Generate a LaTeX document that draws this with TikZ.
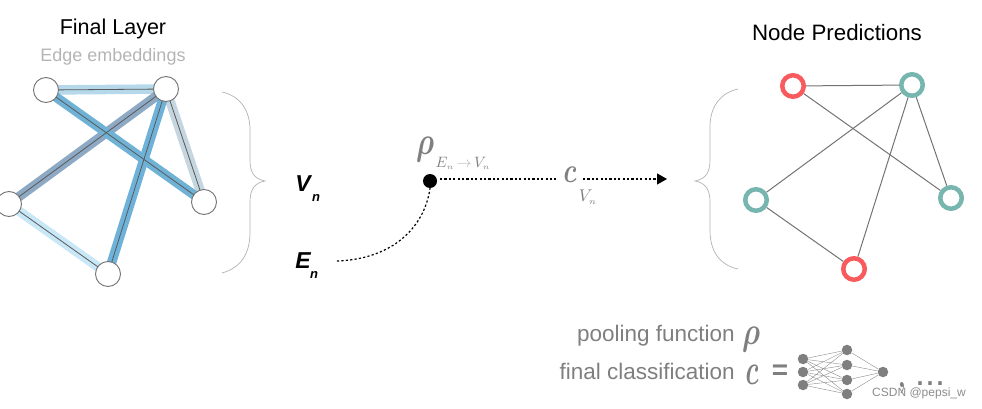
\documentclass[tikz,border=0pt]{standalone}
\usepackage{fontspec}
\setmainfont{Liberation Sans}
\usetikzlibrary{arrows.meta}
\font\bmi=cmmib10 at 7pt
\newcommand{\brho}{{\bmi\char"1A}}
\newcommand{\bcc}{{\bmi\char"63}}
\newcommand{\bcomma}{{\bmi\char"3B}}
\definecolor{lblgray}{HTML}{7F7F7F}
\definecolor{embgray}{HTML}{B5B5B5}
\definecolor{redn}{HTML}{F95A5E}
\definecolor{tealn}{HTML}{76B6AE}
\tikzset{
  x=1pt,y=-1pt,
  gnode/.style={circle,draw=black!55,line width=0.9pt,fill=white,minimum size=25pt,inner sep=0pt},
  pnode/.style={circle,fill=white,line width=4.5pt,minimum size=21.5pt,inner sep=0pt},
  rnode/.style={pnode,draw=redn},
  tnode/.style={pnode,draw=tealn},
  band/.style={line width=9.5pt},
  thinedge/.style={line width=0.8pt,black!65},
  predge/.style={line width=1pt,black!55},
  brace/.style={line width=0.7pt,black!30},
  dots/.style={line width=1.2pt,dash pattern=on 2.2pt off 2.2pt},
  nn/.style={circle,fill=lblgray,minimum size=10.5pt,inner sep=0pt},
  nnedge/.style={line width=0.4pt,black!45},
  title/.style={inner sep=0pt,font=\fontsize{21.5}{24}\selectfont},
  botlbl/.style={inner sep=0pt,text=lblgray,font=\fontsize{22.5}{26}\selectfont},
  mathlbl/.style={inner sep=0pt,text=lblgray},
  vlbl/.style={inner sep=0pt,font=\fontsize{23}{25}\selectfont\bfseries\itshape},
  slbl/.style={inner sep=0pt,font=\fontsize{13}{14}\selectfont\bfseries\itshape}
}
\begin{document}
\begin{tikzpicture}
\useasboundingbox (0,0) rectangle (982,409);
\node[title] (t1) at (113,29) {Final Layer};
\node[inner sep=0pt,text=embgray,font=\fontsize{18}{20}\selectfont] (t2) at (113,57) {Edge embeddings};
\node[title,font=\fontsize{22.3}{24}\selectfont] (t3) at (837,33) {Node Predictions};
% left graph
\coordinate (a0) at (46,90);\coordinate (b0) at (166,89);\coordinate (c0) at (9,204);
\coordinate (d0) at (204,202);\coordinate (e0) at (108,274);
\draw[band,color={rgb,255:red,181;green,216;blue,234}] (a0)--(b0);
\draw[band,color={rgb,255:red,200;green,232;blue,247}] (c0)--(e0);
\draw[band,color={rgb,255:red,197;green,214;blue,224}] (b0)--(d0);
\draw[band,color={rgb,255:red,141;green,169;blue,196}] (b0)--(c0);
\draw[band,color={rgb,255:red,111;green,178;blue,213}] (a0)--(d0);
\draw[band,color={rgb,255:red,111;green,178;blue,217}] (b0)--(e0);
\draw[thinedge] (a0)--(b0);\draw[thinedge] (c0)--(e0);\draw[thinedge] (b0)--(d0);
\draw[thinedge] (b0)--(c0);\draw[thinedge] (a0)--(d0);\draw[thinedge] (b0)--(e0);
\node[gnode] (a) at (a0) {};\node[gnode] (b) at (b0) {};\node[gnode] (c) at (c0) {};
\node[gnode] (d) at (d0) {};\node[gnode] (e) at (e0) {};
% braces
\coordinate (br1) at (222,92);\coordinate (br2) at (265,181);\coordinate (br3) at (222,273);
\draw[brace] (br1) .. controls (240,96) and (250,110) .. (250,130) -- (250,160) .. controls (250,172) and (254,179) .. (br2) .. controls (254,183) and (250,190) .. (250,202) -- (250,232) .. controls (250,255) and (240,268) .. (br3);
\coordinate (bl1) at (738,89);\coordinate (bl2) at (695,181);\coordinate (bl3) at (738,269);
\draw[brace] (bl1) .. controls (720,93) and (710,107) .. (710,127) -- (710,160) .. controls (710,172) and (706,179) .. (bl2) .. controls (706,183) and (710,190) .. (710,202) -- (710,230) .. controls (710,252) and (720,265) .. (bl3);
% right graph
\node[rnode] (p) at (793,86) {};\node[tnode] (q) at (912,85) {};\node[tnode] (r) at (756,200) {};
\node[tnode] (s) at (951,198) {};\node[rnode] (u) at (854,269) {};
\draw[predge] (p)--(q);\draw[predge] (p)--(s);\draw[predge] (q)--(r);\draw[predge] (q)--(s);
\draw[predge] (q)--(u);\draw[predge] (r)--(u);
% centre
\node[vlbl] (vn) at (303,184) {V};
\node[slbl] (vs) at (316,198) {n};
\node[vlbl] (en) at (303,261) {E};
\node[slbl] (es) at (314,275) {n};
\node[circle,fill=black,minimum size=14pt,inner sep=0pt] (dot) at (430,181) {};
\coordinate (ef) at (337,261);
\draw[dots] (ef) .. controls (395,259) and (425,225) .. (dot.south);
\node[mathlbl,xscale=4.2,yscale=5.6] (rho) at (425,150) {\brho};
\node[mathlbl,xscale=3.6,yscale=5.0] (cc) at (570,175) {\bcc};
\node[inner sep=0pt,text=lblgray,scale=1.5] (sub1) at (463,163) {$E_{\scriptscriptstyle n}$\,\textcolor{embgray}{$\rightarrow$}\,$V_{\scriptscriptstyle n}$};
\node[inner sep=0pt,text=lblgray,scale=1.7] (sub2) at (588,197) {$V_{\scriptscriptstyle n}$};
\coordinate (ds) at (440,179);\coordinate (d1) at (556,179);\coordinate (d2) at (583,179);
\coordinate (ar) at (667,179);
\draw[dots] (ds) -- (d1);
\draw[dots,-{Triangle[length=10pt,width=11pt]}] (d2) -- (ar);
% bottom
\node[botlbl,anchor=base east] (l1) at (735,341) {pooling function};
\node[mathlbl,xscale=4.2,yscale=5.6] (l1m) at (751,340) {\brho};
\node[botlbl,anchor=base east] (l2) at (735,379) {final classification};
\node[mathlbl,xscale=3.6,yscale=6.2] (l2m) at (752,375) {\bcc};
\node[inner sep=0pt,text=lblgray,font=\fontsize{28}{30}\selectfont\bfseries] (eq) at (780,372) {=};
\foreach \n/\y in {1/359,2/372,3/385}{\node[nn] (i\n) at (803,\y) {};}
\foreach \n/\y in {1/350,2/365,3/380,4/394}{\node[nn] (h\n) at (847,\y) {};}
\node[nn] (o) at (883,372) {};
\foreach \i in {1,2,3}{\foreach \h in {1,2,3,4}{\draw[nnedge] (i\i)--(h\h);}}
\foreach \h in {1,2,3,4}{\draw[nnedge] (h\h)--(o);}
\node[mathlbl,xscale=3.4,yscale=4.6] (cm) at (902,388) {\bcomma};
\node[inner sep=0pt,text=lblgray,font=\fontsize{36}{38}\selectfont] (dd) at (930,384) {...};
\node[inner sep=0pt,text=black!45,font=\fontsize{12}{14}\selectfont] (wm) at (919,393) {CSDN @pepsi\_w};
\end{tikzpicture}
\end{document}
